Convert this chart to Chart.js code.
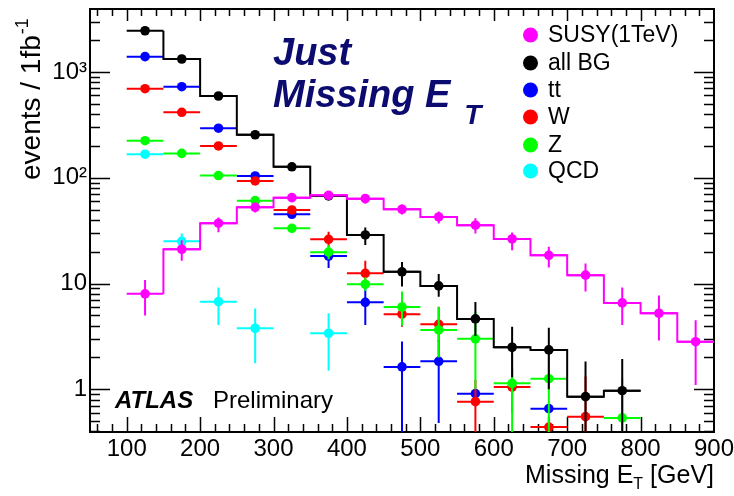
<!DOCTYPE html>
<html>
<head>
<meta charset="utf-8">
<script src="https://cdn.jsdelivr.net/npm/chart.js@4.4.1/dist/chart.umd.min.js"></script>
<style>
  html, body { margin:0; padding:0; background:#fff; }
  #wrap { width:734px; height:496px; }
</style>
</head>
<body>
<div id="wrap"><canvas id="chart" width="734" height="496"></canvas></div>
<script>
const fontFam = '"Liberation Sans", Arial, Helvetica, sans-serif';

// axis range and ticks
const xMin = 50, xMax = 900;
const yMin = 0.395, yMax = 3940;
const xTicks = [100, 200, 300, 400, 500, 600, 700, 800, 900];
const yTicks = [1, 10, 100, 1000];
const yTickLabels = ['1', '10', '10²', '10³'];

// 50 GeV bins
const binEdges = [100, 150, 200, 250, 300, 350, 400, 450, 500, 550, 600, 650, 700, 750, 800, 850, 900];
const binCenters = [125, 175, 225, 275, 325, 375, 425, 475, 525, 575, 625, 675, 725, 775, 825, 875];

// SUSY (1 TeV)
const susy   = [8.0, 21.1, 37.2, 52.6, 64.9, 68.3, 63.5, 50.4, 42.6, 35.6, 26.4, 18.5, 12.0, 6.56, 5.24, 2.82];
const susyHi = [10.8, 25.7, 42.2, 58, 71, 75, 70, 56, 48, 41.4, 30.4, 22.3, 15.5, 9.2, 7.7, 4.5];
const susyLo = [5.0, 16.4, 30.5, 47, 59, 62, 57, 45, 37, 29.8, 20.7, 14.2, 8.4, 4.06, 2.9, 1.1];

// all BG
const allBG = [2455, 1327, 593, 255, 127, 67.3, 28.8, 12.9, 9.5, 4.63, 2.50, 2.36, 0.853, 0.97, null, null];
const bgHi  = [null, null, null, null, null, null, 33.9, 16, 12.3, 6.7, 3.9, 3.83, 1.83, 1.94, null, null];
const bgLo  = [null, null, null, null, null, null, 23.1, 9.4, 7.5, 3.2, 1.3, 1.0, 0, 0, null, null];

// tt
const tt   = [1396, 726, 294, 104, 45.2, 18.2, 6.65, 1.63, 1.84, 0.91, null, 0.657, null, null, null, null];
const ttHi = [null, null, null, null, null, 20, 9.7, 2.83, 2.93, 1.0, null, 0.72, null, null, null, null];
const ttLo = [null, null, null, null, null, 14, 4.06, 0, 0.48, 0.8, null, 0.6, null, null, null, null];

// W
const wjets = [695, 416, 200, 93.3, 49.6, 26.2, 12.5, 5.13, 4.12, 0.765, 1.05, 0.44, 0.552, null, null, null];
const wHi   = [null, null, null, null, null, 30.9, 16.4, 6.5, 6.05, 1.23, 1.6, 0.55, 1.32, null, null, null];
const wLo   = [null, null, null, null, null, 22, 10, 3.9, 2.8, 0, 0.6, 0, 0, null, null, null];

// Z
const zjets = [224, 170, 105, 60.8, 33.3, 19.8, 9.85, 6.0, 3.64, 3.0, 1.14, 1.26, null, 0.537, null, null];
const zHi   = [null, null, null, null, null, 23, 11.5, 8.4, 6.0, 5.4, 2.4, 2.3, null, 1.27, null, null];
const zLo   = [null, null, null, null, null, 17, 8.5, 4.0, 2.0, 1.0, 0, 0, null, 0, null, null];

// QCD
const qcd   = [167, 25.1, 6.74, 3.78, null, 3.39, null, null, null, null, null, null, null, null, null, null];
const qcdHi = [null, 29.8, 9.2, 5.8, null, 5.25, null, null, null, null, null, null, null, null, null, null];
const qcdLo = [null, 21, 4.06, 1.76, null, 1.50, null, null, null, null, null, null, null, null, null, null];

const legendLabels = ['SUSY(1TeV)', 'all BG', 'tt', 'W', 'Z', 'QCD'];
const legendColors = ['#ff00ff', '#000000', '#0000ff', '#ff0000', '#00ff00', '#00ffff'];

function points(vals) {
  return binCenters.map((x, i) => ({ x: x, y: vals[i] }));
}

// histogram outline, drawn with stepped 'after' from the upper bin edges
function stepData(vals) {
  const pts = [{ x: xMin, y: 0 }, { x: binEdges[0], y: 0 }];
  vals.forEach((v, i) => pts.push({ x: binEdges[i + 1], y: v == null ? 0 : v }));
  return pts;
}

function pointSet(label, color, vals, hi, lo) {
  return {
    type: 'scatter', label: label, data: points(vals),
    backgroundColor: color, borderColor: color, borderWidth: 0,
    pointRadius: 4.8, pointHoverRadius: 4.8,
    errHi: hi, errLo: lo
  };
}

function stepSet(label, color, vals) {
  return {
    type: 'line', label: label, data: stepData(vals),
    borderColor: color, borderWidth: 2, pointRadius: 0,
    stepped: 'after', fill: false, showLine: true
  };
}

const errorBars = {
  id: 'errorBars',
  beforeDatasetDraw(chart, args) {
    const ds = chart.data.datasets[args.index];
    if (!ds.errHi) return;
    const { ctx, chartArea: a, scales: { x, y } } = chart;
    ctx.save();
    ctx.beginPath();
    ctx.rect(a.left, a.top, a.right - a.left, a.bottom - a.top);
    ctx.clip();
    ctx.strokeStyle = ds.borderColor;
    ctx.lineWidth = 2;
    ctx.beginPath();
    ds.data.forEach((p, i) => {
      if (p.y == null) return;
      const px = x.getPixelForValue(p.x), py = y.getPixelForValue(p.y);
      ctx.moveTo(x.getPixelForValue(binEdges[i]), py);
      ctx.lineTo(x.getPixelForValue(binEdges[i + 1]), py);
      if (ds.errHi[i] != null) {
        ctx.moveTo(px, y.getPixelForValue(ds.errHi[i]));
        ctx.lineTo(px, y.getPixelForValue(ds.errLo[i]));
      }
    });
    ctx.stroke();
    ctx.restore();
  }
};

const frameTicks = {
  id: 'frameTicks',
  beforeDatasetsDraw(chart) {
    const { ctx, chartArea: a, scales: { x, y } } = chart;
    ctx.save();
    ctx.strokeStyle = '#000';
    ctx.lineWidth = 1.5;
    ctx.beginPath();
    for (let v = 60; v < xMax; v += 20) {
      const px = Math.round(x.getPixelForValue(v)) + 0.5;
      const len = v % 100 === 0 ? 15 : 8;
      ctx.moveTo(px, a.bottom); ctx.lineTo(px, a.bottom - len);
      ctx.moveTo(px, a.top); ctx.lineTo(px, a.top + (v % 100 === 0 ? 12 : 7));
    }
    for (let k = -1; k <= 3; k++) {
      for (let m = 1; m <= 9; m++) {
        const v = m * Math.pow(10, k);
        if (v < yMin || v > yMax) continue;
        const py = Math.round(y.getPixelForValue(v)) + 0.5;
        const len = m === 1 ? 20 : 10;
        ctx.moveTo(a.left, py); ctx.lineTo(a.left + len, py);
        ctx.moveTo(a.right, py); ctx.lineTo(a.right - len, py);
      }
    }
    ctx.stroke();
    ctx.lineWidth = 2;
    ctx.strokeRect(a.left, a.top, a.right - a.left, a.bottom - a.top);
    ctx.restore();
  }
};

const texts = {
  id: 'texts',
  afterDraw(chart) {
    const ctx = chart.ctx;
    ctx.save();
    ctx.textAlign = 'left';
    ctx.textBaseline = 'alphabetic';

    // big label
    ctx.fillStyle = '#0b0b70';
    ctx.font = 'italic bold 38px ' + fontFam;
    ctx.fillText('Just', 273, 65);
    ctx.fillText('Missing E', 273, 107);
    const w = ctx.measureText('Missing E').width;
    ctx.font = 'italic bold 28px ' + fontFam;
    ctx.fillText('T', 273 + w + 14, 124);

    // ATLAS Preliminary
    ctx.fillStyle = '#000';
    ctx.font = 'italic bold 24px ' + fontFam;
    ctx.fillText('ATLAS', 115, 408);
    ctx.font = '24px ' + fontFam;
    ctx.fillText('Preliminary', 213, 408);

    // legend
    const rows = [35, 63, 90, 117, 145, 171];
    ctx.textBaseline = 'middle';
    ctx.font = '23px ' + fontFam;
    legendLabels.forEach((lab, i) => {
      ctx.fillStyle = legendColors[i];
      ctx.beginPath();
      ctx.arc(530.5, rows[i], 7.5, 0, Math.PI * 2);
      ctx.fill();
      ctx.fillStyle = '#000';
      ctx.fillText(lab, 548, rows[i] + 1);
    });

    // x axis title
    ctx.textBaseline = 'alphabetic';
    ctx.font = '25px ' + fontFam;
    const t1 = 'Missing E', t3 = ' [GeV]';
    const w1 = ctx.measureText(t1).width, w3 = ctx.measureText(t3).width;
    ctx.font = '16px ' + fontFam;
    const w2 = ctx.measureText('T').width;
    let x0 = 714 - (w1 + w2 + w3);
    ctx.font = '25px ' + fontFam;
    ctx.fillText(t1, x0, 483);
    ctx.font = '16px ' + fontFam;
    ctx.fillText('T', x0 + w1, 489);
    ctx.font = '25px ' + fontFam;
    ctx.fillText(t3, x0 + w1 + w2, 483);

    // y axis title
    ctx.translate(40, 180);
    ctx.rotate(-Math.PI / 2);
    ctx.font = '28px ' + fontFam;
    const yt = 'events / 1fb';
    ctx.fillText(yt, 0, 0);
    const yw = ctx.measureText(yt).width;
    ctx.font = '18px ' + fontFam;
    ctx.fillText('-1', yw + 1, -12);
    ctx.restore();
  }
};

Chart.defaults.color = '#000';
Chart.defaults.font.family = fontFam;

new Chart(document.getElementById('chart'), {
  type: 'scatter',
  data: {
    datasets: [
      pointSet('SUSY(1TeV)', '#ff00ff', susy, susyHi, susyLo),
      stepSet('SUSY hist', '#ff00ff', susy),
      pointSet('all BG', '#000000', allBG, bgHi, bgLo),
      stepSet('all BG hist', '#000000', allBG),
      pointSet('QCD', '#00ffff', qcd, qcdHi, qcdLo),
      pointSet('Z', '#00ff00', zjets, zHi, zLo),
      pointSet('W', '#ff0000', wjets, wHi, wLo),
      pointSet('tt', '#0000ff', tt, ttHi, ttLo)
    ]
  },
  options: {
    responsive: false,
    animation: false,
    devicePixelRatio: 1,
    events: [],
    layout: { padding: { top: 9, right: 20, left: 0, bottom: 0 } },
    plugins: { legend: { display: false }, tooltip: { enabled: false } },
    scales: {
      x: {
        type: 'linear', min: xMin, max: xMax,
        grid: { display: false, drawTicks: false },
        border: { display: false },
        ticks: { font: { size: 24 }, padding: 3, maxRotation: 0, autoSkip: false,
                 callback: v => String(v) },
        afterBuildTicks: s => { s.ticks = xTicks.map(v => ({ value: v })); },
        afterFit: s => { s.height = 64; s.paddingLeft = 0; s.paddingRight = 0; }
      },
      y: {
        type: 'logarithmic', min: yMin, max: yMax,
        grid: { display: false, drawTicks: false },
        border: { display: false },
        ticks: { font: { size: 24 }, padding: 3, autoSkip: false,
                 callback: (v, i) => yTickLabels[i] },
        afterBuildTicks: s => { s.ticks = yTicks.map(v => ({ value: v })); },
        afterFit: s => { s.width = 90; s.paddingTop = 0; s.paddingBottom = 0; }
      }
    }
  },
  plugins: [frameTicks, errorBars, texts]
});
</script>
</body>
</html>
